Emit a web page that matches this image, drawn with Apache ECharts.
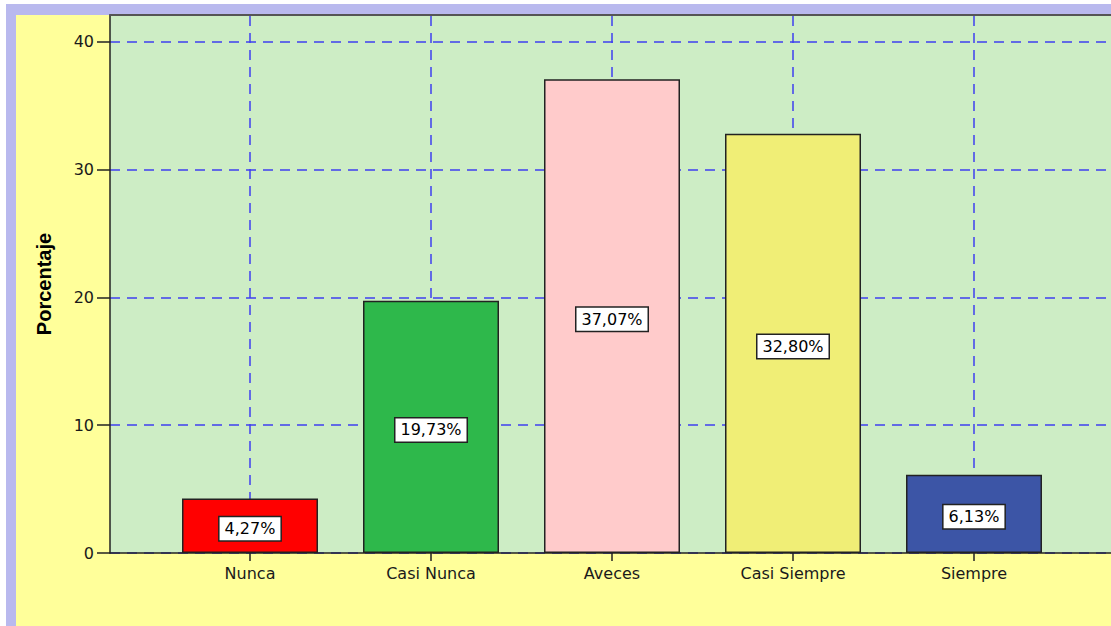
<!DOCTYPE html>
<html>
<head>
<meta charset="utf-8">
<script src="https://cdn.jsdelivr.net/npm/echarts@6/dist/echarts.min.js"></script>
<style>
  html, body { margin: 0; padding: 0; background: #fff; }
  #chart { width: 1111px; height: 626px; }
</style>
</head>
<body>
<div id="chart"></div>
<script>
// datos
const categories = ['Nunca', 'Casi Nunca', 'Aveces', 'Casi Siempre', 'Siempre'];
const percentages = [4.27, 19.73, 37.07, 32.80, 6.13];
const barColors = ['#ff0000', '#2eb84b', '#ffcbcb', '#f0ee76', '#3c55a6'];
const yTickStep = 10;
const yTickMax = 40;
const yAxisTitle = 'Porcentaje';

const FONT = 'DejaVu Sans';
const GRID_BLUE = '#3f3ff0';
const INK = '#222';

const chart = echarts.init(document.getElementById('chart'), null, { renderer: 'svg' });

const option = {
  backgroundColor: '#ffffff',
  animation: false,
  graphic: [
    { type: 'rect', z: -10, silent: true, shape: { x: 6, y: 4, width: 1105, height: 622 }, style: { fill: '#b9b9ee' } },
    { type: 'rect', z: -9, silent: true, shape: { x: 16, y: 15, width: 1095, height: 611 }, style: { fill: '#ffff9a' } }
  ],
  grid: [
    // fondo verde del area de trazado
    { left: 110, right: -10, top: 15, bottom: 73, show: true, backgroundColor: '#cdedc5', borderWidth: 0 },
    // barras
    { left: 159.5, width: 905, top: 15, bottom: 73 },
    // eje y con marcas
    { left: 110, right: -10, top: 41.8, bottom: 73 }
  ],
  xAxis: [
    { gridIndex: 0, type: 'value', position: 'top', min: 0, max: 1,
      axisLine: { show: true, onZero: false, lineStyle: { color: '#555', width: 2 } },
      axisTick: { show: false }, axisLabel: { show: false }, splitLine: { show: false } },
    { gridIndex: 1, type: 'category', data: categories,
      axisLine: { show: false },
      axisTick: { show: true, alignWithLabel: true, length: 8, lineStyle: { color: INK, width: 1.5 } },
      axisLabel: { margin: 12, fontFamily: FONT, fontSize: 16, color: '#1a1a1a' } },
    { gridIndex: 2, type: 'value', min: 0, max: 1,
      axisLine: { show: true, onZero: false, lineStyle: { color: INK, width: 1.5 } },
      axisTick: { show: false }, axisLabel: { show: false }, splitLine: { show: false } }
  ],
  yAxis: [
    { gridIndex: 0, type: 'value', min: 0, max: 1,
      name: yAxisTitle, nameLocation: 'middle', nameRotate: 90, nameGap: 56,
      nameTextStyle: { fontFamily: 'Liberation Sans', fontWeight: 'bold', fontSize: 20, color: '#000' },
      axisLine: { show: true, onZero: false, lineStyle: { color: INK, width: 1.5 } },
      axisTick: { show: false }, axisLabel: { show: false }, splitLine: { show: false } },
    { gridIndex: 1, type: 'value', min: 0, max: 42.1, show: false },
    { gridIndex: 2, type: 'value', min: 0, max: yTickMax, interval: yTickStep,
      axisLine: { show: false },
      axisTick: { show: true, inside: false, length: 13, lineStyle: { color: INK, width: 1.5 } },
      axisLabel: { margin: 16, fontFamily: FONT, fontSize: 16, color: '#1a1a1a' },
      splitLine: { show: true, lineStyle: { color: GRID_BLUE, width: 1.5, type: [10, 7] } } }
  ],
  series: [
    {
      type: 'bar',
      xAxisIndex: 1,
      yAxisIndex: 1,
      z: 3,
      barWidth: 136,
      data: percentages.map((v, i) => ({ value: v, itemStyle: { color: barColors[i] } })),
      itemStyle: { borderColor: '#222', borderWidth: 1.5 },
      label: {
        show: true,
        position: 'inside',
        offset: [0, 3],
        formatter: p => p.value.toFixed(2).replace('.', ',') + '%',
        fontFamily: FONT,
        fontSize: 16,
        color: '#000',
        backgroundColor: '#fff',
        borderColor: '#222',
        borderWidth: 1.5,
        padding: [4, 5, 3, 5]
      },
      markLine: {
        z: 1,
        silent: true,
        symbol: ['none', 'none'],
        label: { show: false },
        lineStyle: { color: GRID_BLUE, width: 1.5, type: [10, 7] },
        data: categories.map(c => ({ xAxis: c }))
      }
    }
  ]
};

chart.setOption(option);
</script>
</body>
</html>
